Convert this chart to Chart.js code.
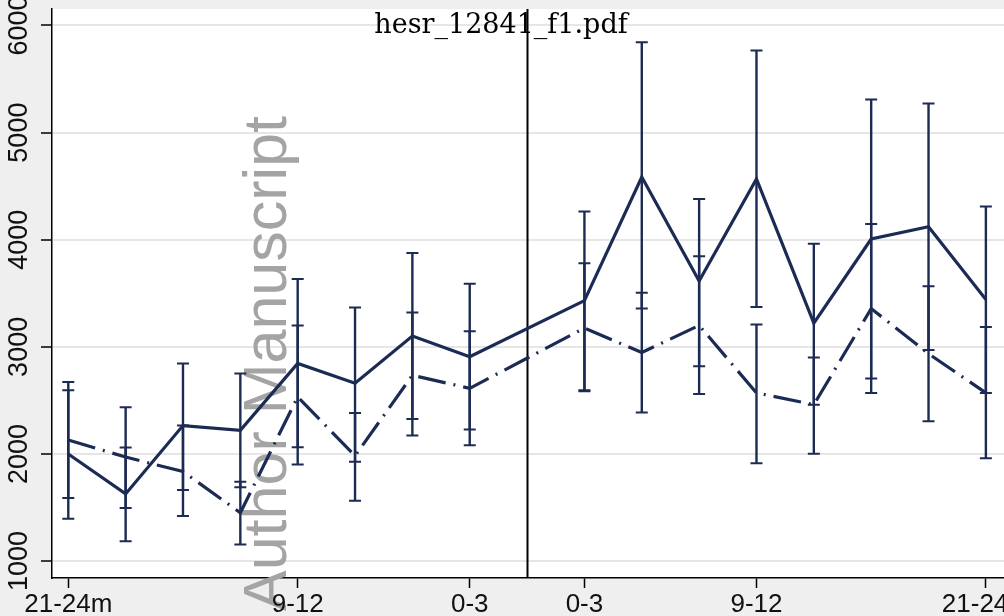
<!DOCTYPE html>
<html>
<head>
<meta charset="utf-8">
<script src="https://cdn.jsdelivr.net/npm/chart.js@4.4.0/dist/chart.umd.min.js"></script>
<style>
  html, body { margin: 0; padding: 0; background: #efefef; }
  #wrap { width: 1004px; height: 616px; position: relative; }
</style>
</head>
<body>
<div id="wrap"><canvas id="chart"></canvas></div>
<script>
// months before / after, one slot per 3-month bin; slot 8 is the break
const categories = ['21-24m', '18-21', '15-18', '12-15', '9-12', '6-9', '3-6', '0-3', '',
  '0-3', '3-6', '6-9', '9-12', '12-15', '15-18', '18-21', '21-24m'];
const tickSlots = [0, 4, 7, 9, 12, 16];
const breakSlot = 8;
const yTicks = [1000, 2000, 3000, 4000, 5000, 6000];

const solidMean = [2000, 1627, 2265, 2221, 2845, 2661, 3101, 2907, null, 3431, 4586, 3614, 4568, 3222, 4007, 4121, 3442];
const solidLow  = [1396, 1184, 1663, 1690, 2063, 1927, 2327, 2228, null, 2595, 3357, 2819, 3373, 2460, 2705, 2970, 2570];
const solidHigh = [2595, 2060, 2845, 2752, 3633, 3368, 3875, 3588, null, 4264, 5843, 4380, 5767, 3963, 5309, 5271, 4311];

const dashMean = [2130, 1971, 1836, 1451, 2533, 1983, 2734, 2613, null, 3175, 2947, 3200, 2570, 2460, 3357, 2936, 2570];
const dashLow  = [1590, 1495, 1421, 1154, 1902, 1564, 2173, 2081, null, 2585, 2386, 2559, 1913, 2001, 2570, 2306, 1960];
const dashHigh = [2672, 2437, 2265, 1741, 3200, 2383, 3321, 3145, null, 3780, 3505, 3846, 3208, 2900, 4146, 3566, 3185];

const navy = '#1c2b53';

const toPoints = arr => arr.map((y, i) => (y === null ? null : { x: i, y: y })).filter(p => p);

const extras = {
  id: 'extras',
  beforeDraw(chart) {
    const { ctx, chartArea: a } = chart;
    ctx.save();
    ctx.fillStyle = '#efefef';
    ctx.fillRect(0, 0, chart.width, chart.height);
    ctx.fillStyle = '#ffffff';
    ctx.fillRect(a.left, a.top, a.right - a.left, a.bottom - a.top);
    ctx.restore();
  },
  beforeDatasetsDraw(chart) {
    const { ctx, chartArea: a, scales: { x, y } } = chart;
    ctx.save();
    // watermark
    ctx.translate(286, 611);
    ctx.rotate(-Math.PI / 2);
    ctx.fillStyle = '#a4a4a4';
    ctx.font = '61px "Liberation Sans", Arial, sans-serif';
    ctx.textAlign = 'left';
    ctx.textBaseline = 'alphabetic';
    ctx.fillText('Author Manuscript', 0, 0);
    ctx.restore();

    // break line
    ctx.save();
    const bx = Math.round(x.getPixelForValue(breakSlot)) + 0.5;
    ctx.strokeStyle = '#000';
    ctx.lineWidth = 2;
    ctx.beginPath();
    ctx.moveTo(bx, a.top);
    ctx.lineTo(bx, a.bottom);
    ctx.stroke();

    // confidence intervals
    ctx.strokeStyle = navy;
    const bars = (lo, hi) => {
      lo.forEach((l, i) => {
        if (l === null) return;
        const px = x.getPixelForValue(i);
        const p1 = y.getPixelForValue(l);
        const p2 = y.getPixelForValue(hi[i]);
        ctx.lineWidth = 2.4;
        ctx.beginPath();
        ctx.moveTo(px, p1); ctx.lineTo(px, p2);
        ctx.stroke();
        ctx.lineWidth = 2;
        ctx.beginPath();
        ctx.moveTo(px - 6, p1); ctx.lineTo(px + 6, p1);
        ctx.moveTo(px - 6, p2); ctx.lineTo(px + 6, p2);
        ctx.stroke();
      });
    };
    bars(solidLow, solidHigh);
    bars(dashLow, dashHigh);
    ctx.restore();
  },
  afterDraw(chart) {
    const { ctx, scales: { x, y } } = chart;
    ctx.save();
    ctx.fillStyle = '#111';
    ctx.font = '26px "Liberation Sans", Arial, sans-serif';
    ctx.textAlign = 'center';
    ctx.textBaseline = 'alphabetic';
    tickSlots.forEach(i => {
      ctx.fillText(categories[i], x.getPixelForValue(i), 612);
    });
    ctx.font = '27px "Liberation Sans", Arial, sans-serif';
    yTicks.forEach(v => {
      ctx.save();
      ctx.translate(27, y.getPixelForValue(v));
      ctx.rotate(-Math.PI / 2);
      ctx.fillText(String(v), 0, 0);
      ctx.restore();
    });
    ctx.fillStyle = '#000';
    ctx.font = '27px "DejaVu Serif", serif';
    ctx.fillText('hesr_12841_f1.pdf', 501, 33);
    ctx.restore();
  }
};

new Chart(document.getElementById('chart'), {
  type: 'line',
  data: {
    datasets: [
      {
        label: 'solid',
        data: toPoints(solidMean),
        borderColor: navy,
        borderWidth: 3.2,
        pointRadius: 0,
        tension: 0,
        fill: false
      },
      {
        label: 'dashed',
        data: toPoints(dashMean),
        borderColor: navy,
        borderWidth: 3.2,
        borderDash: [28, 8, 2, 8],
        pointRadius: 0,
        tension: 0,
        fill: false
      }
    ]
  },
  options: {
    responsive: true,
    maintainAspectRatio: false,
    animation: false,
    layout: { padding: { top: 9, right: 0, left: 0, bottom: 0 } },
    plugins: { legend: { display: false }, tooltip: { enabled: false } },
    scales: {
      x: {
        type: 'linear',
        min: -0.284,
        max: 16.316,
        afterBuildTicks: s => { s.ticks = tickSlots.map(v => ({ value: v })); },
        afterFit: s => { s.height = 38; },
        ticks: { display: false },
        grid: { drawOnChartArea: false, tickColor: '#000', tickLength: 10, tickWidth: 1.5 },
        border: { color: '#000', width: 1.5 }
      },
      y: {
        min: 842,
        max: 6154,
        afterBuildTicks: s => { s.ticks = yTicks.map(v => ({ value: v })); },
        afterFit: s => { s.width = 52; },
        ticks: { display: false },
        grid: { color: '#e6e6e6', lineWidth: 2, tickColor: '#000', tickLength: 11, tickWidth: 1.5 },
        border: { color: '#000', width: 1.5 }
      }
    }
  },
  plugins: [extras]
});
</script>
</body>
</html>
